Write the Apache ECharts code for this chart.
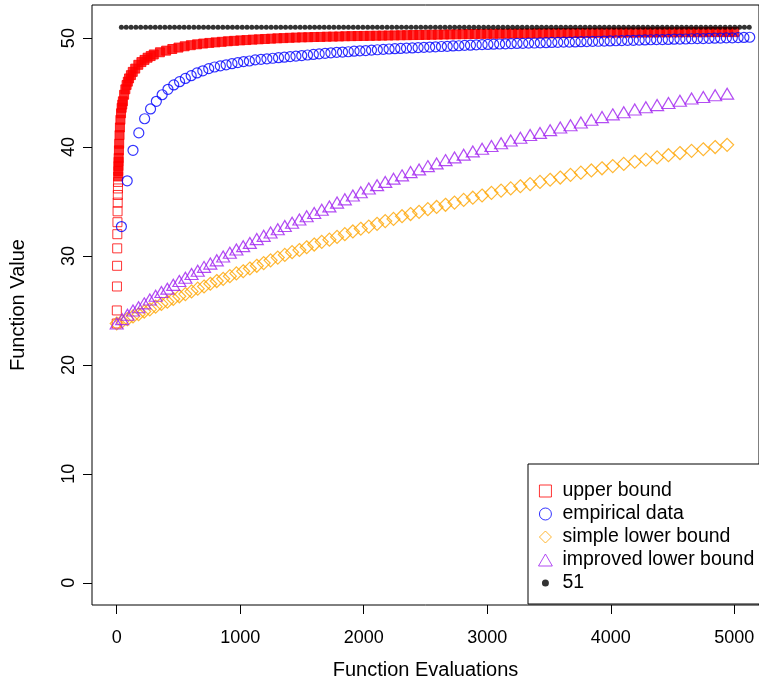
<!DOCTYPE html>
<html>
<head>
<meta charset="utf-8">
<script src="https://cdn.jsdelivr.net/npm/echarts@6/dist/echarts.min.js"></script>
<style>
html,body{margin:0;padding:0;background:#fff;}
#chart{width:759px;height:685px;}
</style>
</head>
<body>
<div id="chart"></div>
<script>
// ---- tick labels ----
const xTicks = [0, 1000, 2000, 3000, 4000, 5000];
const yTicks = [0, 10, 20, 30, 40, 50];

// ---- upper bound (red squares) ----
const upperEvals = [0,1,2,3,4,5,6,7,8,9,10,11,12,13,14,15,16,18,20,23,26,30,35,40,45,50,60,70,80,90,100,115,130,150,175,200,225,250,275,300,350,400,450,500,
550,600,650,700,750,800,850,900,950,1000,1050,1100,1150,1200,1250,1300,1350,1400,1450,1500,1550,1600,1650,1700,1750,1800,1850,1900,1950,2000,
2050,2100,2150,2200,2250,2300,2350,2400,2450,2500,2550,2600,2650,2700,2750,2800,2850,2900,2950,3000,3050,3100,3150,3200,3250,3300,3350,3400,3450,3500,
3550,3600,3650,3700,3750,3800,3850,3900,3950,4000,4050,4100,4150,4200,4250,4300,4350,4400,4450,4500,4550,4600,4650,4700,4750,4800,4850,4900,4950,5000];
const upperBound = [23.8,25.0,27.2,29.1,30.7,32.0,33.1,34.1,34.9,35.6,36.2,36.8,37.3,37.8,38.25,38.65,39.0,39.7,40.3,41.1,41.8,42.5,43.1,43.6,43.9,44.2,44.8,45.3,45.7,46.0,46.3,46.6,46.9,47.2,47.55,47.8,48.0,48.2,48.35,48.5,48.7,48.85,49.0,49.13,
49.25,49.35,49.43,49.5,49.56,49.61,49.66,49.71,49.75,49.79,49.82,49.86,49.89,49.92,49.95,49.98,50.0,50.03,50.05,50.07,50.08,50.1,50.11,50.13,50.14,50.15,50.17,50.18,50.19,50.2,
50.21,50.22,50.23,50.24,50.25,50.26,50.27,50.28,50.29,50.3,50.31,50.32,50.33,50.34,50.35,50.36,50.37,50.38,50.39,50.4,50.4,50.41,50.41,50.42,50.42,50.43,50.43,50.44,50.44,50.45,
50.45,50.46,50.46,50.47,50.47,50.48,50.48,50.49,50.49,50.5,50.5,50.51,50.51,50.51,50.52,50.52,50.52,50.53,50.53,50.53,50.53,50.54,50.54,50.54,50.54,50.55,50.55,50.55,50.55,50.55];

// ---- empirical data (blue circles) ----
const empEvals = [38,85,132,179,226,274,321,368,415,462,509,556,603,650,697,745,792,839,886,933,980,1027,1074,1121,1168,1216,1263,1310,1357,1404,
1451,1498,1545,1592,1639,1687,1734,1781,1828,1875,1922,1969,2016,2063,2110,2158,2205,2252,2299,2346,2393,2440,2487,2534,2581,2629,2676,2723,2770,2817,
2864,2911,2958,3005,3052,3100,3147,3194,3241,3288,3335,3382,3429,3476,3523,3571,3618,3665,3712,3759,3806,3853,3900,3947,3994,4042,4089,4136,4183,4230,
4277,4324,4371,4418,4465,4513,4560,4607,4654,4701,4748,4795,4842,4889,4936,4984,5031,5078,5125];
const empirical = [32.7,36.9,39.7,41.3,42.6,43.5,44.2,44.8,45.3,45.7,46.0,46.3,46.55,46.8,47.0,47.2,47.35,47.45,47.55,47.65,47.75,47.85,47.9,48.0,48.05,48.1,48.15,48.2,48.25,48.3,
48.35,48.4,48.45,48.5,48.55,48.6,48.65,48.7,48.72,48.75,48.8,48.83,48.86,48.9,48.93,48.97,49.0,49.03,49.05,49.08,49.1,49.13,49.15,49.18,49.2,49.23,49.25,49.28,49.3,49.33,
49.35,49.38,49.4,49.42,49.44,49.46,49.48,49.5,49.51,49.52,49.54,49.55,49.57,49.58,49.6,49.61,49.63,49.64,49.65,49.67,49.68,49.7,49.71,49.73,49.74,49.76,49.77,49.79,49.8,49.82,
49.83,49.85,49.86,49.87,49.88,49.9,49.91,49.92,49.94,49.95,49.96,49.98,49.99,50.0,50.02,50.03,50.05,50.06,50.08];

// ---- lower bounds (orange diamonds, purple triangles) ----
const lbEvals = [0,44,87,132,177,223,268,315,362,410,458,507,556,606,656,707,758,810,862,916,969,1024,1078,1134,1190,1246,1304,1361,1420,1479,
1538,1599,1660,1722,1784,1847,1912,1976,2041,2108,2174,2241,2310,2379,2448,2519,2590,2662,2735,2809,2883,2958,3034,3112,3190,3268,3347,3427,3509,3591,
3674,3758,3843,3929,4016,4105,4194,4284,4375,4467,4560,4654,4749,4845,4942];
const simpleLower = [23.8,24.0,24.2,24.45,24.65,24.9,25.1,25.35,25.6,25.8,26.05,26.3,26.5,26.75,27.0,27.2,27.45,27.7,27.9,28.15,28.4,28.6,28.85,29.1,29.35,29.6,29.85,30.1,30.35,30.55,
30.8,31.05,31.3,31.5,31.75,32.0,32.25,32.5,32.7,32.95,33.2,33.4,33.65,33.85,34.05,34.3,34.5,34.7,34.9,35.15,35.35,35.55,35.8,36.0,36.2,36.4,36.6,36.8,37.0,37.2,
37.45,37.65,37.85,38.05,38.25,38.45,38.65,38.85,39.05,39.25,39.45,39.65,39.8,40.0,40.2];
const improvedLower = [23.8,24.2,24.6,25.0,25.3,25.65,26.0,26.35,26.7,27.0,27.35,27.7,28.0,28.35,28.65,29.0,29.3,29.6,29.95,30.3,30.6,30.9,31.2,31.55,31.85,32.15,32.45,32.75,33.05,33.35,
33.65,33.95,34.25,34.55,34.9,35.2,35.55,35.85,36.2,36.5,36.8,37.1,37.4,37.7,37.95,38.25,38.5,38.8,39.05,39.3,39.6,39.85,40.1,40.35,40.6,40.85,41.1,41.3,41.55,41.8,
42.0,42.25,42.5,42.75,43.0,43.2,43.45,43.65,43.85,44.05,44.25,44.45,44.6,44.75,44.9];

// ---- optimum reference (black dots at 51) ----
const optEvals = [38,77,116,155,194,234,273,312,351,390,429,468,507,546,585,625,664,703,742,781,820,859,898,937,976,1016,1055,1094,1133,1172,
1211,1250,1289,1328,1367,1407,1446,1485,1524,1563,1602,1641,1680,1719,1758,1798,1837,1876,1915,1954,1993,2032,2071,2110,2149,2189,2228,2267,2306,2345,
2384,2423,2462,2501,2540,2580,2619,2658,2697,2736,2775,2814,2853,2892,2931,2971,3010,3049,3088,3127,3166,3205,3244,3283,3322,3362,3401,3440,3479,3518,
3557,3596,3635,3674,3713,3753,3792,3831,3870,3909,3948,3987,4026,4065,4104,4144,4183,4222,4261,4300,4339,4378,4417,4456,4495,4535,4574,4613,4652,4691,
4730,4769,4808,4847,4886,4926,4965,5004,5043,5082,5121];
const optValue = 51;

const seriesNames = ['upper bound', 'empirical data', 'simple lower bound', 'improved lower bound', '51'];

// ---- build ----
const zip = (xs, ys) => xs.map((x, i) => [x, ys[i]]);
const FONT = '"Liberation Sans", Arial, Helvetica, sans-serif';
const RED = '#FF0000', BLUE = '#0000FF', ORANGE = '#FFA500', PURPLE = '#A020F0';
const CLEAR = 'rgba(0,0,0,0)';

// legend glyphs
const ICON_SQUARE = 'path://M0,0L9,0L9,9L0,9Z';
const ICON_CIRCLE = 'path://M5,0A5,5 0 1,1 5,10A5,5 0 1,1 5,0Z';
const ICON_DIAMOND = 'path://M6,0L12,6L6,12L0,6Z';
const ICON_TRIANGLE = 'path://M6,0L12,10.4L0,10.4Z';
const ICON_DOT = 'path://M0,0M12,12M6,2.5A3.5,3.5 0 1,1 6,9.5A3.5,3.5 0 1,1 6,2.5Z';

const chart = echarts.init(document.getElementById('chart'), null, {renderer: 'canvas'});
chart.setOption({
  animation: false,
  backgroundColor: '#fff',
  grid: {left: 92, top: 5, width: 670, height: 600, show: true, borderColor: '#000', borderWidth: 1, backgroundColor: 'transparent'},
  xAxis: {
    type: 'value', min: -200, max: 5200,
    name: 'Function Evaluations', nameLocation: 'middle', nameGap: 55,
    nameTextStyle: {fontSize: 20, color: '#000', fontFamily: FONT},
    axisLine: {show: false, onZero: false},
    splitLine: {show: false},
    axisTick: {show: true, inside: false, customValues: xTicks, length: 9, lineStyle: {color: '#000', width: 1}},
    axisLabel: {customValues: xTicks, formatter: v => String(v), fontSize: 18, color: '#000', fontFamily: FONT, margin: 24}
  },
  yAxis: {
    type: 'value', min: -2.04, max: 53.04,
    name: 'Function Value', nameLocation: 'middle', nameGap: 64,
    nameTextStyle: {fontSize: 20, color: '#000', fontFamily: FONT},
    axisLine: {show: false, onZero: false},
    splitLine: {show: false},
    axisTick: {show: true, inside: false, customValues: yTicks, length: 9, lineStyle: {color: '#000', width: 1}},
    axisLabel: {customValues: yTicks, formatter: v => String(v), rotate: 90, fontSize: 18, color: '#000', fontFamily: FONT, margin: 14}
  },
  legend: {
    orient: 'vertical', left: 528, top: 464,
    padding: [17, 40, 11, 10],
    itemWidth: 24, itemHeight: 12, itemGap: 3,
    symbolKeepAspect: true,
    borderColor: '#000', borderWidth: 1, backgroundColor: '#fff', borderRadius: 0,
    selectedMode: false,
    textStyle: {fontSize: 19.5, color: '#000', fontFamily: FONT},
    data: [
      {name: seriesNames[0], icon: ICON_SQUARE, itemStyle: {color: CLEAR, borderColor: RED, borderWidth: 1}},
      {name: seriesNames[1], icon: ICON_CIRCLE, itemStyle: {color: CLEAR, borderColor: BLUE, borderWidth: 1}},
      {name: seriesNames[2], icon: ICON_DIAMOND, itemStyle: {color: CLEAR, borderColor: ORANGE, borderWidth: 1}},
      {name: seriesNames[3], icon: ICON_TRIANGLE, itemStyle: {color: CLEAR, borderColor: PURPLE, borderWidth: 1}},
      {name: seriesNames[4], icon: ICON_DOT, itemStyle: {color: '#000', borderWidth: 0}}
    ]
  },
  series: [
    {
      name: seriesNames[0], type: 'scatter', symbol: 'rect', symbolSize: 9,
      data: zip(upperEvals, upperBound),
      itemStyle: {color: p => (p.value[1] >= 37 ? RED : CLEAR), borderColor: RED, borderWidth: 1},
      emphasis: {disabled: true}
    },
    {
      name: seriesNames[1], type: 'scatter', symbol: 'circle', symbolSize: 10,
      data: zip(empEvals, empirical),
      itemStyle: {color: CLEAR, borderColor: BLUE, borderWidth: 1.2},
      emphasis: {disabled: true}
    },
    {
      name: seriesNames[2], type: 'scatter', symbol: 'diamond', symbolSize: [13, 13],
      data: zip(lbEvals, simpleLower),
      itemStyle: {color: CLEAR, borderColor: ORANGE, borderWidth: 1.2},
      emphasis: {disabled: true}
    },
    {
      name: seriesNames[3], type: 'scatter', symbol: 'triangle', symbolSize: [13, 11],
      data: zip(lbEvals, improvedLower),
      itemStyle: {color: CLEAR, borderColor: PURPLE, borderWidth: 1.2},
      emphasis: {disabled: true}
    },
    {
      name: seriesNames[4], type: 'scatter', symbol: 'circle', symbolSize: 5,
      data: optEvals.map(x => [x, optValue]),
      itemStyle: {color: '#000'},
      emphasis: {disabled: true}
    }
  ]
});
</script>
</body>
</html>
